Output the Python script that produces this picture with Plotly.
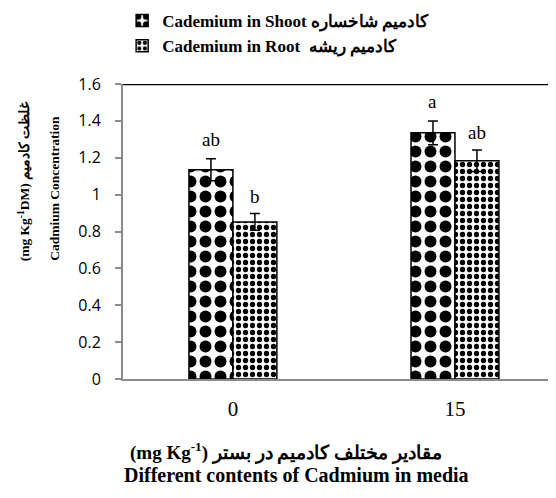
import plotly.graph_objects as go

# ---- data ----
categories = ["0", "15"]
x_pos = [0, 1]
shoot_values = [1.135, 1.335]
shoot_errors = [0.060, 0.065]
root_values = [0.852, 1.184]
root_errors = [0.045, 0.058]
shoot_letters = ["ab", "a"]
root_letters = ["b", "ab"]
y_ticks = [0, 0.2, 0.4, 0.6, 0.8, 1, 1.2, 1.4, 1.6]
y_ticktext = ["0", "0.2", "0.4", "0.6", "0.8", "1", "1.2", "1.4", "1.6"]

serif = "Liberation Serif, Times New Roman, DejaVu Serif, serif"
sans = "Open Sans, Liberation Sans, sans-serif"

fig = go.Figure()
fig.add_trace(go.Bar(
    x=x_pos, y=shoot_values,
    name="<b>Cademium in Shoot کادمیم شاخساره</b>",
    marker=dict(color="white", line=dict(color="black", width=1.5),
                pattern=dict(shape=".", fgcolor="black", bgcolor="white",
                             size=15, solidity=0.5, fillmode="replace")),
    error_y=dict(type="data", array=shoot_errors, color="black", thickness=1.5, width=5),
))
fig.add_trace(go.Bar(
    x=x_pos, y=root_values,
    name="<b>Cademium in Root  کادمیم ریشه</b>",
    marker=dict(color="white", line=dict(color="black", width=1.5),
                pattern=dict(shape=".", fgcolor="black", bgcolor="white",
                             size=7, solidity=0.45, fillmode="replace")),
    error_y=dict(type="data", array=root_errors, color="black", thickness=1.5, width=5),
))

annotations = []
bar_w = 0.198
for i in range(len(x_pos)):
    annotations.append(dict(x=x_pos[i] - bar_w / 2, y=shoot_values[i] + shoot_errors[i],
                            xref="x", yref="y", text=shoot_letters[i], showarrow=False,
                            yanchor="bottom", yshift=7, font=dict(family=serif, size=19, color="black")))
    annotations.append(dict(x=x_pos[i] + bar_w / 2, y=root_values[i] + root_errors[i],
                            xref="x", yref="y", text=root_letters[i], showarrow=False,
                            yanchor="bottom", yshift=5, font=dict(family=serif, size=19, color="black")))

# axis titles
annotations.append(dict(x=-0.2295, y=0.67, xref="paper", yref="paper", textangle=-90,
                        xanchor="center", yanchor="middle",
                        text="<b>(mg Kg<sup>-1</sup>DM) غلظت کادمیم</b>", showarrow=False,
                        font=dict(family=serif, size=13.5, color="black")))
annotations.append(dict(x=-0.159, y=0.645, xref="paper", yref="paper", textangle=-90,
                        xanchor="center", yanchor="middle",
                        text="<b>Cadmium Concentration</b>", showarrow=False,
                        font=dict(family=serif, size=13.5, color="black")))
annotations.append(dict(x=0.382, y=-0.247, xref="paper", yref="paper",
                        xanchor="center", yanchor="middle",
                        text="<b>(mg Kg<sup>-1</sup>) مقادیر مختلف کادمیم در بستر</b>", showarrow=False,
                        font=dict(family=serif, size=19, color="black")))
annotations.append(dict(x=0.407, y=-0.325, xref="paper", yref="paper",
                        xanchor="center", yanchor="middle",
                        text="<b>Different contents of Cadmium in media</b>", showarrow=False,
                        font=dict(family=serif, size=20, color="black")))

fig.update_layout(
    width=556, height=498,
    margin=dict(l=115, r=14, t=76, b=127, autoexpand=False),
    paper_bgcolor="white", plot_bgcolor="white",
    barmode="group", bargap=0.604, bargroupgap=0,
    showlegend=True,
    legend=dict(x=-0.002, y=1.2746, xref="paper", yref="paper",
                xanchor="left", yanchor="top", orientation="v",
                font=dict(family=serif, size=17, color="black"),
                bgcolor="rgba(0,0,0,0)", itemwidth=30, tracegroupgap=0),
    xaxis=dict(range=[-0.495, 1.428], tickvals=x_pos, ticktext=categories,
               showline=True, linecolor="#8c8c8c", linewidth=2, ticks="",
               showgrid=False, zeroline=False, ticklabelstandoff=10,
               tickfont=dict(family=serif, size=21, color="black")),
    yaxis=dict(range=[0, 1.6], tickvals=y_ticks, ticktext=y_ticktext,
               showline=True, linecolor="#8c8c8c", linewidth=2, ticks="outside",
               ticklen=6, tickcolor="#8c8c8c", tickwidth=1.5,
               showgrid=False, zeroline=False, ticklabelstandoff=11,
               tickfont=dict(family=sans, size=16, color="black")),
    annotations=annotations,
    shapes=[dict(type="line", xref="paper", yref="y", x0=0, x1=1.03, y0=1.6, y1=1.6,
                 line=dict(color="black", width=2.5))],
)

fig.write_html("out.html")
